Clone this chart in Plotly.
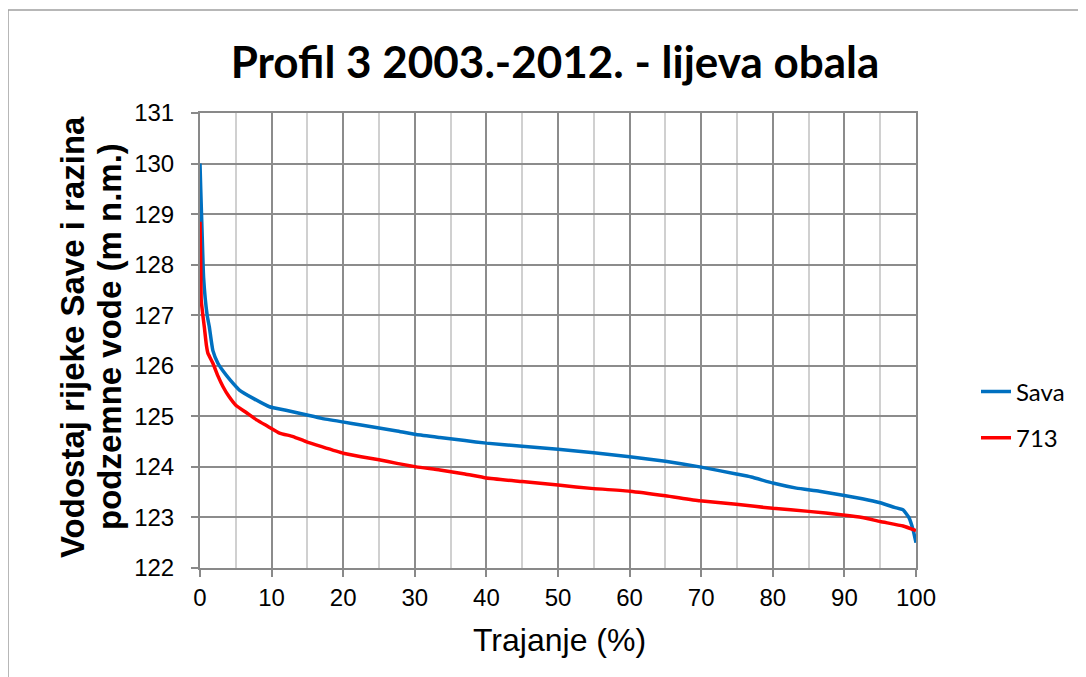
import plotly.graph_objects as go

# Data
sava_x = [0, 0.1, 0.3, 0.5, 1.0, 1.3, 1.8, 2.5, 3.2, 4.2, 5.5, 7.5, 9.7, 12, 14.8, 17, 19.9, 22.5, 25, 27.5, 30.2, 33.5, 37, 40, 45, 50, 55, 60, 65, 69.8, 74.9, 77, 80, 83.3, 86.5, 89.8, 92.5, 95, 97, 98.2, 99, 99.6, 100]
sava_y = [130.0, 129.5, 128.6, 127.75, 127.0, 126.77, 126.3, 126.05, 125.9, 125.72, 125.52, 125.35, 125.19, 125.12, 125.03, 124.96, 124.89, 124.83, 124.77, 124.71, 124.64, 124.58, 124.52, 124.47, 124.41, 124.35, 124.28, 124.2, 124.11, 124.0, 123.86, 123.8, 123.68, 123.58, 123.52, 123.44, 123.37, 123.29, 123.2, 123.15, 123.0, 122.75, 122.5]

p713_x = [0, 0.1, 0.17, 0.4, 0.6, 0.9, 1.1, 1.8, 2.5, 3.2, 4.0, 5.0, 6.5, 7.9, 9.5, 11.1, 13, 14.8, 17, 20, 22.5, 25, 27.5, 30.2, 33.5, 37, 40, 45, 50, 55, 60, 65, 69.8, 74.9, 80, 85, 89.8, 92.5, 95, 98.2, 100]
p713_y = [128.85, 128.0, 127.3, 127.0, 126.77, 126.4, 126.25, 126.05, 125.8, 125.59, 125.4, 125.22, 125.07, 124.93, 124.8, 124.67, 124.6, 124.5, 124.4, 124.27, 124.2, 124.14, 124.07, 124.0, 123.94, 123.86, 123.78, 123.71, 123.64, 123.57, 123.52, 123.43, 123.33, 123.26, 123.18, 123.12, 123.05, 123.0, 122.92, 122.83, 122.74]

x_ticks = list(range(0, 101, 10))
y_ticks = list(range(122, 132))

title_text = "Profil 3 2003.-2012. - lijeva obala"
x_title = "Trajanje (%)"
y_title_lines = ["Vodostaj rijeke Save i razina", "podzemne vode (m n.m.)"]

ARIAL = "Liberation Sans, Arial, sans-serif"
CAL = "Lato, Open Sans, sans-serif"

# plot area in page pixels (page has 8px body margin)
PL, PR, PT, PB = 200, 916, 113, 568
PW, PH = PR - PL, PB - PT

def px(xpix):
    return (xpix - PL) / PW

def py(ypix):
    return (PB - ypix) / PH

fig = go.Figure()
fig.add_trace(go.Scatter(x=sava_x, y=sava_y, mode="lines", name="Sava", legendgroup="a",
                         line=dict(color="#0070C0", width=3.5, shape="spline", smoothing=0.4)))
fig.add_trace(go.Scatter(x=p713_x, y=p713_y, mode="lines", name="713", legendgroup="b",
                         line=dict(color="#FF0000", width=3.5, shape="spline", smoothing=0.4)))

annotations = [
    dict(text="<b>%s</b>" % y_title_lines[0], xref="paper", yref="paper",
         x=px(72), y=py(337), xanchor="center", yanchor="middle", textangle=-90,
         showarrow=False, font=dict(family=ARIAL, size=33, color="black")),
    dict(text="<b>%s</b>" % y_title_lines[1], xref="paper", yref="paper",
         x=px(109), y=py(337), xanchor="center", yanchor="middle", textangle=-90,
         showarrow=False, font=dict(family=ARIAL, size=33, color="black")),
    dict(text=x_title, xref="paper", yref="paper",
         x=px(559), y=py(640), xanchor="center", yanchor="middle",
         showarrow=False, font=dict(family=ARIAL, size=32, color="black")),
]

fig.update_layout(
    width=1078, height=669,
    margin=dict(l=192, r=170, t=105, b=109),
    paper_bgcolor="white", plot_bgcolor="white",
    title=dict(text="<b>%s</b>" % title_text, x=(555 - 8) / 1078, xanchor="center",
               y=1 - (63 - 8) / 669, yanchor="middle",
               font=dict(family=CAL, size=44, color="black")),
    legend=dict(x=px(976), y=py(415), xanchor="left", yanchor="middle",
                font=dict(family=CAL, size=24, color="black"),
                bgcolor="rgba(0,0,0,0)", tracegroupgap=12),
    showlegend=True,
    annotations=annotations,
    shapes=[dict(type="rect", xref="paper", yref="paper",
                 x0=px(8), x1=px(1085), y0=py(700), y1=py(10),
                 line=dict(color="#A0A0A0", width=1.5), layer="below")],
)

fig.update_xaxes(
    range=[0, 100], tickvals=x_ticks, ticktext=[str(v) for v in x_ticks],
    showgrid=True, gridcolor="#8C8C8C", gridwidth=1.5,
    minor=dict(dtick=5, tick0=0, showgrid=True, gridcolor="#D0D0D0", gridwidth=1.5, ticks=""),
    showline=True, linecolor="#898989", linewidth=2, mirror=True,
    ticks="outside", ticklen=7, tickcolor="#898989", tickwidth=1.5,
    tickfont=dict(family=ARIAL, size=24, color="black"),
    zeroline=False,
)
fig.update_yaxes(
    range=[122, 131], tickvals=y_ticks, ticktext=[str(v) for v in y_ticks],
    showgrid=True, gridcolor="#8C8C8C", gridwidth=1.5,
    showline=True, linecolor="#898989", linewidth=2, mirror=True,
    ticks="outside", ticklen=7, tickcolor="#898989", tickwidth=1.5,
    ticklabelstandoff=12,
    tickfont=dict(family=ARIAL, size=24, color="black"),
    zeroline=False,
)

fig.write_html("out.html")
